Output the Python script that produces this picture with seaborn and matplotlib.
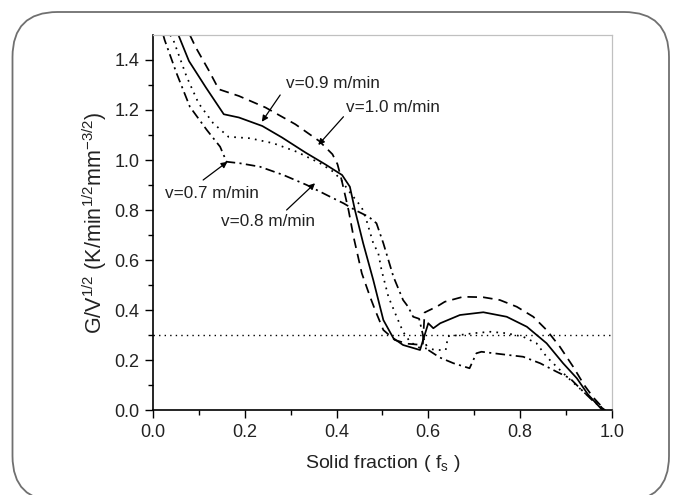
import numpy as np
import pandas as pd
import matplotlib
matplotlib.use("Agg")
import matplotlib.pyplot as plt
import seaborn as sns
from matplotlib.patches import FancyBboxPatch

# ---- data ----
x_v10 = [0.080, 0.093, 0.122, 0.143, 0.187, 0.245, 0.310, 0.362, 0.391, 0.402, 0.411, 0.426, 0.437,
         0.455, 0.473, 0.484, 0.502, 0.527, 0.555, 0.588, 0.592, 0.620, 0.636, 0.676, 0.720, 0.756,
         0.793, 0.829, 0.858, 0.887, 0.916, 0.940, 0.960, 0.985]
y_v10 = [1.500, 1.450, 1.356, 1.283, 1.256, 1.210, 1.143, 1.076, 1.023, 0.983, 0.920, 0.800, 0.693,
         0.547, 0.453, 0.400, 0.320, 0.280, 0.265, 0.260, 0.390, 0.415, 0.433, 0.453, 0.451, 0.440,
         0.413, 0.373, 0.320, 0.253, 0.173, 0.100, 0.050, 0.000]

x_v09 = [0.055, 0.078, 0.115, 0.154, 0.187, 0.238, 0.281, 0.332, 0.375, 0.412, 0.429, 0.440, 0.458,
         0.480, 0.502, 0.524, 0.545, 0.582, 0.600, 0.611, 0.626, 0.669, 0.720, 0.771, 0.815, 0.858,
         0.894, 0.924, 0.948, 0.977, 0.985]
y_v09 = [1.500, 1.396, 1.290, 1.183, 1.170, 1.136, 1.090, 1.030, 0.983, 0.940, 0.893, 0.800, 0.667,
         0.520, 0.360, 0.287, 0.260, 0.240, 0.347, 0.327, 0.347, 0.380, 0.391, 0.373, 0.333, 0.267,
         0.187, 0.127, 0.063, 0.005, 0.000]

x_v08 = [0.037, 0.044, 0.073, 0.099, 0.131, 0.164, 0.211, 0.262, 0.313, 0.364, 0.393, 0.410, 0.425,
         0.440, 0.455, 0.465, 0.480, 0.491, 0.498, 0.513, 0.531, 0.545, 0.560, 0.580, 0.600, 0.620,
         0.638, 0.643, 0.669, 0.698, 0.735, 0.771, 0.807, 0.836, 0.858, 0.880, 0.910, 0.940, 0.985]
y_v08 = [1.500, 1.480, 1.333, 1.227, 1.147, 1.093, 1.087, 1.067, 1.033, 0.987, 0.953, 0.920, 0.880,
         0.845, 0.810, 0.760, 0.667, 0.627, 0.560, 0.453, 0.373, 0.313, 0.273, 0.250, 0.245, 0.240,
         0.240, 0.295, 0.300, 0.307, 0.313, 0.307, 0.293, 0.267, 0.213, 0.173, 0.120, 0.070, 0.000]

x_v07 = [0.022, 0.025, 0.051, 0.080, 0.117, 0.146, 0.160, 0.189, 0.233, 0.284, 0.335, 0.386, 0.415,
         0.440, 0.470, 0.487, 0.502, 0.513, 0.524, 0.545, 0.556, 0.567, 0.580, 0.591, 0.600, 0.625,
         0.655, 0.690, 0.705, 0.716, 0.756, 0.807, 0.844, 0.880, 0.909, 0.940, 0.960, 0.985]
y_v07 = [1.500, 1.480, 1.347, 1.213, 1.120, 1.053, 0.993, 0.987, 0.973, 0.940, 0.900, 0.853, 0.827,
         0.800, 0.773, 0.747, 0.667, 0.600, 0.533, 0.440, 0.413, 0.373, 0.365, 0.280, 0.240, 0.210,
         0.187, 0.167, 0.227, 0.233, 0.224, 0.213, 0.187, 0.153, 0.127, 0.070, 0.035, 0.000]

ref_level = 0.3
labels = ["v=1.0 m/min", "v=0.9 m/min", "v=0.8 m/min", "v=0.7 m/min"]
xticks = [0.0, 0.2, 0.4, 0.6, 0.8, 1.0]
yticks = [0.0, 0.2, 0.4, 0.6, 0.8, 1.0, 1.2, 1.4]

# ---- figure ----
sns.set_theme(style="white")
plt.rcParams['font.family'] = ['Liberation Sans', 'DejaVu Sans']
plt.rcParams['mathtext.fontset'] = 'custom'
plt.rcParams['mathtext.rm'] = 'Liberation Sans'
plt.rcParams['mathtext.it'] = 'Liberation Sans'

fig = plt.figure(figsize=(6.73, 4.95), dpi=100)
fig.patch.set_facecolor('white')
ax = fig.add_axes([0.2276, 0.1717, 0.9089 - 0.2276, 0.9293 - 0.1717])

series = [
    (x_v10, y_v10, (0, (5.5, 3.5))),
    (x_v09, y_v09, '-'),
    (x_v08, y_v08, (0, (1.0, 3.0))),
    (x_v07, y_v07, (0, (5.5, 2.5, 1.2, 2.5))),
]
for (xs, ys, ls), lab in zip(series, labels):
    df = pd.DataFrame({"fs": xs, "g": ys})
    sns.lineplot(data=df, x="fs", y="g", ax=ax, color="black", linewidth=1.25,
                 linestyle=ls, sort=False, estimator=None, legend=False)

ax.axhline(ref_level, color="black", linewidth=1.0, linestyle=(0, (1.0, 3.0)))

ax.set_xlim(0.0, 1.0)
ax.set_ylim(0.0, 1.5)
ax.set_xticks(xticks)
ax.set_yticks(yticks)
ax.set_xticks(np.arange(0.1, 1.0, 0.2), minor=True)
ax.set_yticks(np.arange(0.1, 1.5, 0.2), minor=True)
ax.set_xticklabels([f"{t:.1f}" for t in xticks])
ax.set_yticklabels([f"{t:.1f}" for t in yticks])
ax.tick_params(axis='both', which='major', direction='out', length=6, width=1.0,
               color='black', labelsize=13, labelcolor='#222222', pad=4,
               bottom=True, left=True, top=False, right=False)
ax.tick_params(axis='both', which='minor', direction='out', length=3.5, width=1.0,
               color='black', bottom=True, left=True, top=False, right=False)
for s in ['left', 'bottom']:
    ax.spines[s].set_color('black')
    ax.spines[s].set_linewidth(1.2)
for s in ['top', 'right']:
    ax.spines[s].set_color('#c0c0c0')
    ax.spines[s].set_linewidth(0.9)

ax.set_xlabel("Solid fraction ( f$_{\\mathregular{s}}$ )", fontsize=14, color='#222222', labelpad=9)
ax.set_ylabel("G/V$^{\\mathregular{1/2}}$ (K/min$^{\\mathregular{1/2}}$mm$^{\\mathregular{-3/2}}$)",
              fontsize=15.5, color='#222222', labelpad=4)

# annotations
txt = dict(fontsize=12.3, color='#222222', ha='center', va='center')
arrow = dict(arrowstyle='-|>', color='black', lw=0.9, mutation_scale=9, shrinkA=0, shrinkB=0)
ax.text(0.392, 1.305, labels[1], **txt)
ax.annotate('', xy=(0.237, 1.153), xytext=(0.277, 1.26), arrowprops=arrow)
ax.text(0.524, 1.208, labels[0], **txt)
ax.annotate('', xy=(0.360, 1.060), xytext=(0.415, 1.173), arrowprops=arrow)
ax.text(0.129, 0.868, labels[3], **txt)
ax.annotate('', xy=(0.162, 0.993), xytext=(0.109, 0.920), arrowprops=arrow)
ax.text(0.251, 0.756, labels[2], **txt)
ax.annotate('', xy=(0.353, 0.907), xytext=(0.291, 0.800), arrowprops=arrow)

# rounded outer frame
box = FancyBboxPatch((0.125, -0.06), 6.565, 4.89,
                     boxstyle="round,pad=0,rounding_size=0.45",
                     transform=fig.dpi_scale_trans, facecolor='none',
                     edgecolor='#707070', linewidth=1.3, clip_on=False)
fig.patches.append(box)

fig.savefig("out.png", dpi=100, facecolor='white')
